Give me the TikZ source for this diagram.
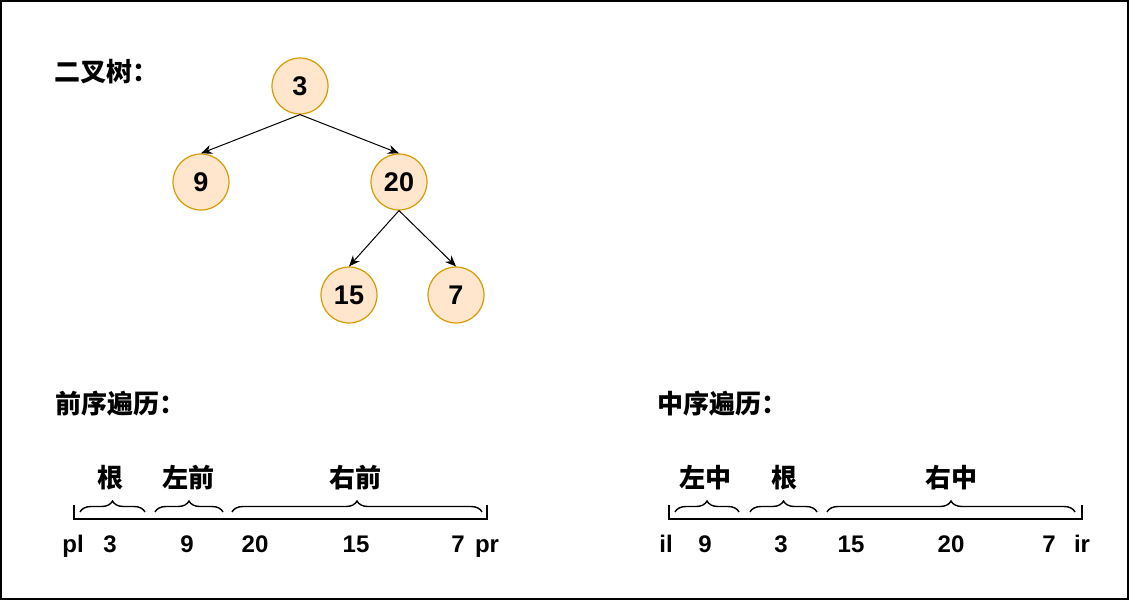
\documentclass[tikz,border=0pt]{standalone}
\usepackage{fontspec}
\setmainfont{Liberation Sans}
\newfontfamily\cjk{Noto Sans CJK SC}
\usetikzlibrary{arrows.meta,decorations.pathreplacing}
\definecolor{nodefill}{HTML}{FFE6CC}
\definecolor{nodeline}{HTML}{D79B00}
\tikzset{
  treenode/.style={circle,draw=nodeline,fill=nodefill,line width=1.2pt,minimum size=56pt,inner sep=0pt,font=\bfseries\fontsize{27}{30}\selectfont},
  title/.style={anchor=west,inner sep=0pt,font=\cjk\bfseries\fontsize{26}{30}\selectfont},
  part/.style={inner sep=0pt,font=\cjk\bfseries\fontsize{26}{30}\selectfont},
  idx/.style={anchor=base,inner sep=0pt,font=\bfseries\fontsize{24}{28}\selectfont},
  edge/.style={-{Stealth[length=11pt,width=9pt]},line width=1pt},
  curly/.style={decorate,decoration={brace,amplitude=11pt},line width=1.4pt},
}

\begin{document}
\begin{tikzpicture}[x=1pt,y=-1pt]
    \useasboundingbox (0,0) rectangle (1129,600);
    \draw[line width=1.5pt] (1,1) rectangle (1128,599);

    % tree
    \node[title] (treetitle) at (54,72) {二叉树：};
    \node[treenode] (n3) at (300,86) {3};
    \node[treenode] (n9) at (201,182) {9};
    \node[treenode] (n20) at (399,182) {20};
    \node[treenode] (n15) at (349,295) {15};
    \node[treenode] (n7) at (456,295) {7};
    \draw[edge] (n3.south) -- (n9.north);
    \draw[edge] (n3.south) -- (n20.north);
    \draw[edge] (n20.south) -- (n15.north);
    \draw[edge] (n20.south) -- (n7.north);

    % preorder
    \node[title] (pretitle) at (55,404) {前序遍历：};
    \draw[line width=1.8pt] (74,505) -- (74,519) -- (487,519) -- (487,505);
    \draw[curly] (80,512) -- (145,512);
    \draw[curly] (155,512) -- (223,512);
    \draw[curly] (232,512) -- (482,512);
    \node[part] (preroot) at (110,478) {根};
    \node[part] (preleft) at (188,478) {左前};
    \node[part] (preright) at (355,478) {右前};
    \node[idx] (pl) at (73,552) {pl};
    \node[idx] (p3) at (110,552) {3};
    \node[idx] (p9) at (187,552) {9};
    \node[idx] (p20) at (255,552) {20};
    \node[idx] (p15) at (356,552) {15};
    \node[idx] (p7) at (458,552) {7};
    \node[idx] (pr) at (487,552) {pr};

    % inorder
    \node[title] (intitle) at (657,404) {中序遍历：};
    \draw[line width=1.8pt] (669,505) -- (669,519) -- (1082,519) -- (1082,505);
    \draw[curly] (675,512) -- (739,512);
    \draw[curly] (750,512) -- (817,512);
    \draw[curly] (827,512) -- (1075,512);
    \node[part] (inleft) at (705,478) {左中};
    \node[part] (inroot) at (784,478) {根};
    \node[part] (inright) at (951,478) {右中};
    \node[idx] (il) at (666,552) {il};
    \node[idx] (i9) at (705,552) {9};
    \node[idx] (i3) at (781,552) {3};
    \node[idx] (i15) at (851,552) {15};
    \node[idx] (i20) at (951,552) {20};
    \node[idx] (i7) at (1049,552) {7};
    \node[idx] (ir) at (1082,552) {ir};
\end{tikzpicture}
\end{document}
